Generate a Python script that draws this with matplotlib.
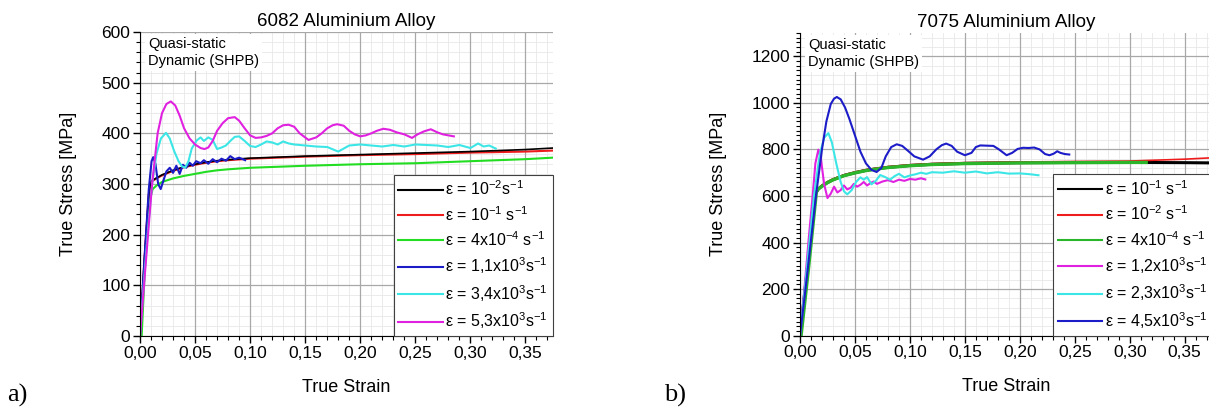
import matplotlib
matplotlib.use("Agg")
import matplotlib.pyplot as plt
from matplotlib.ticker import MultipleLocator, FuncFormatter

plt.rcParams['font.family'] = ['Liberation Sans', 'DejaVu Sans']
plt.rcParams['mathtext.default'] = 'regular'

# ---- 6082 aluminium alloy (panel a) ----
black_a_x = [0, 0.004, 0.008, 0.0105, 0.015, 0.02, 0.03, 0.04, 0.05, 0.06, 0.07, 0.08, 0.1, 0.125, 0.15, 0.2, 0.25, 0.3, 0.35, 0.375]
black_a_y = [0, 150, 280, 306, 312, 318, 327, 334, 339, 343, 346, 348, 351, 353, 355, 358, 361, 364, 368, 371]
red_a_x = black_a_x
red_a_y = [0, 150, 280, 305, 311, 317, 326, 333, 338, 342, 345, 347, 350, 352, 354, 357, 359, 362, 364, 366]
green_a_x = [0, 0.0015, 0.005, 0.009, 0.0115, 0.015, 0.02, 0.03, 0.04, 0.05, 0.06, 0.07, 0.08, 0.1, 0.125, 0.15, 0.2, 0.25, 0.3, 0.35, 0.375]
green_a_y = [0, 0, 160, 270, 290, 297, 304, 311, 316, 320, 324, 327, 329, 332, 334, 336, 339, 341, 345, 349, 352]
blue_a_x = [0, 0.004, 0.008, 0.0105, 0.012, 0.014, 0.0165, 0.0188, 0.021, 0.024, 0.027, 0.03, 0.033, 0.036, 0.039,
            0.042, 0.045, 0.048, 0.051, 0.055, 0.058, 0.062, 0.066, 0.07, 0.074, 0.078, 0.082, 0.086, 0.09, 0.0955]
blue_a_y = [0, 150, 290, 345, 353, 340, 300, 290, 305, 325, 332, 322, 336, 320, 338,
            332, 342, 336, 345, 341, 347, 340, 349, 343, 350, 346, 355, 349, 352, 347]
cyan_a_x = [0, 0.004, 0.008, 0.011, 0.015, 0.019, 0.0236, 0.027, 0.031, 0.035, 0.038, 0.041, 0.044, 0.047, 0.0515,
            0.055, 0.058, 0.062, 0.066, 0.07, 0.074, 0.078, 0.082, 0.086, 0.09, 0.095, 0.1, 0.105, 0.11, 0.115,
            0.12, 0.125, 0.13, 0.135, 0.14, 0.15, 0.16, 0.17, 0.18, 0.19, 0.2, 0.21, 0.22, 0.23, 0.24,
            0.25, 0.26, 0.27, 0.28, 0.29, 0.3, 0.307, 0.312, 0.317, 0.323]
cyan_a_y = [0, 120, 230, 300, 360, 390, 401, 390, 365, 345, 335, 332, 345, 370, 386,
            392, 385, 392, 387, 369, 372, 376, 385, 393, 394, 385, 375, 373, 378, 384,
            382, 378, 384, 380, 378, 376, 374, 373, 364, 376, 378, 376, 374, 377, 374,
            378, 377, 376, 373, 377, 371, 380, 374, 376, 370]
magenta_a_x = [0, 0.004, 0.008, 0.011, 0.016, 0.02, 0.024, 0.028, 0.032, 0.036, 0.04, 0.045, 0.05, 0.055, 0.0585,
               0.062, 0.066, 0.07, 0.075, 0.08, 0.086, 0.09, 0.095, 0.1, 0.105, 0.11, 0.115, 0.12, 0.125, 0.13,
               0.135, 0.14, 0.145, 0.153, 0.16, 0.165, 0.17, 0.175, 0.179, 0.185, 0.19, 0.195, 0.2, 0.205, 0.21,
               0.215, 0.221, 0.227, 0.233, 0.24, 0.247, 0.252, 0.258, 0.264, 0.27, 0.275, 0.28, 0.285]
magenta_a_y = [0, 110, 220, 300, 400, 440, 458, 463, 455, 435, 410, 390, 378, 371, 369,
               372, 385, 405, 420, 430, 432, 425, 410, 396, 391, 392, 395, 400, 410, 416,
               417, 413, 400, 387, 392, 400, 410, 416, 418, 415, 405, 398, 394, 396, 400,
               405, 409, 407, 402, 398, 391, 398, 404, 408, 402, 398, 396, 394]

labels_a = ['ε = 10$^{-2}$s$^{-1}$', 'ε = 10$^{-1}$ s$^{-1}$', 'ε = 4x10$^{-4}$ s$^{-1}$',
            'ε = 1,1x10$^{3}$s$^{-1}$', 'ε = 3,4x10$^{3}$s$^{-1}$', 'ε = 5,3x10$^{3}$s$^{-1}$']

# ---- 7075 aluminium alloy (panel b) ----
black_b_x = [0, 0.007, 0.014, 0.0167, 0.02, 0.025, 0.03, 0.04, 0.05, 0.06, 0.07, 0.08, 0.1, 0.12, 0.15, 0.2, 0.25, 0.3, 0.35, 0.375]
black_b_y = [0, 300, 610, 630, 643, 658, 670, 688, 700, 710, 717, 723, 731, 736, 740, 743, 744, 744, 743, 742]
red_b_x = black_b_x
red_b_y = [0, 300, 610, 633, 646, 661, 673, 691, 703, 713, 720, 726, 734, 739, 743, 746, 748, 750, 758, 764]
green_b_x = [0.001, 0.008, 0.015, 0.0167, 0.02, 0.025, 0.03, 0.04, 0.05, 0.06, 0.07, 0.08, 0.1, 0.12, 0.15, 0.2, 0.25, 0.3, 0.315]
green_b_y = [0, 300, 620, 630, 642, 657, 669, 687, 699, 709, 716, 722, 730, 735, 739, 742, 743, 744, 744]
magenta_b_x = [0, 0.004, 0.008, 0.0115, 0.014, 0.0167, 0.019, 0.022, 0.025, 0.028, 0.031, 0.034, 0.037, 0.04, 0.043,
               0.046, 0.049, 0.052, 0.055, 0.058, 0.061, 0.064, 0.067, 0.07, 0.075, 0.08, 0.085, 0.09, 0.095, 0.1,
               0.105, 0.11, 0.114]
magenta_b_y = [0, 200, 420, 600, 740, 799, 760, 650, 591, 610, 640, 615, 625, 645, 628,
               635, 652, 640, 648, 660, 645, 655, 662, 652, 662, 668, 660, 670, 665, 673,
               670, 676, 671]
cyan_b_x = [0, 0.005, 0.01, 0.0127, 0.018, 0.022, 0.0258, 0.029, 0.033, 0.037, 0.04, 0.043, 0.047, 0.051, 0.055,
            0.058, 0.061, 0.065, 0.069, 0.073, 0.078, 0.082, 0.086, 0.09, 0.095, 0.1, 0.105, 0.11, 0.115, 0.12,
            0.13, 0.14, 0.15, 0.16, 0.17, 0.18, 0.19, 0.2, 0.21, 0.217]
cyan_b_y = [0, 230, 470, 600, 780, 850, 870, 830, 740, 660, 620, 607, 625, 660, 680,
            670, 681, 650, 665, 690, 680, 670, 685, 695, 680, 688, 693, 700, 695, 702,
            700, 706, 700, 705, 697, 702, 696, 697, 693, 689]
blue_b_x = [0, 0.005, 0.01, 0.0145, 0.02, 0.024, 0.028, 0.031, 0.0335, 0.037, 0.041, 0.045, 0.05, 0.055, 0.06,
            0.065, 0.0697, 0.074, 0.078, 0.083, 0.088, 0.093, 0.098, 0.104, 0.112, 0.118, 0.124, 0.129, 0.133, 0.138,
            0.143, 0.15, 0.156, 0.16, 0.164, 0.17, 0.176, 0.181, 0.188, 0.193, 0.198, 0.203, 0.208, 0.213, 0.218,
            0.223, 0.227, 0.231, 0.234, 0.237, 0.241, 0.245]
blue_b_y = [0, 200, 410, 600, 800, 920, 995, 1018, 1025, 1015, 980, 930, 860, 790, 740,
            712, 703, 720, 770, 810, 822, 815, 795, 770, 756, 770, 800, 818, 825, 815,
            790, 775, 785, 810, 817, 816, 815, 800, 775, 785, 802, 807, 806, 808, 800,
            780, 775, 782, 792, 785, 780, 778]

labels_b = ['ε = 10$^{-1}$ s$^{-1}$', 'ε = 10$^{-2}$ s$^{-1}$', 'ε = 4x10$^{-4}$ s$^{-1}$',
            'ε = 1,2x10$^{3}$s$^{-1}$', 'ε = 2,3x10$^{3}$s$^{-1}$', 'ε = 4,5x10$^{3}$s$^{-1}$']

BLACK, RED, GREEN = '#000000', '#ee1c1c', '#22dd22'
BLUE, CYAN, MAGENTA = '#1c1cc8', '#3de6e6', '#e021e0'

fig = plt.figure(figsize=(12.09, 4.12), dpi=100)
ax_a = fig.add_axes([0.1158, 0.1845, 0.3416, 0.7378])
ax_b = fig.add_axes([0.6617, 0.1852, 0.3409, 0.7348])


def style_axes(ax, ymax, ymaj, ymin_tick, ygrid_minor, title):
    ax.set_xlim(0, 0.375)
    ax.set_ylim(0, ymax)
    ax.xaxis.set_major_locator(MultipleLocator(0.05))
    ax.xaxis.set_minor_locator(MultipleLocator(0.01))
    ax.yaxis.set_major_locator(MultipleLocator(ymaj))
    ax.yaxis.set_minor_locator(MultipleLocator(ymin_tick))
    ax.xaxis.set_major_formatter(FuncFormatter(lambda v, p: f'{v:.2f}'.replace('.', ',')))
    for s in ['top', 'right']:
        ax.spines[s].set_visible(False)
    ax.tick_params(which='major', direction='out', length=5, width=1, labelsize=12.5, pad=2)
    ax.tick_params(which='minor', direction='out', length=3, width=0.8)
    ax.grid(True, which='major', color='#a8a8a8', lw=0.9)
    # faint background grid
    v = 0.01
    while v < 0.375:
        ax.axvline(v, color='#e8e8e8', lw=0.6, zorder=0)
        v += 0.01
    g = ygrid_minor
    while g < ymax:
        ax.axhline(g, color='#e8e8e8', lw=0.6, zorder=0)
        g += ygrid_minor
    ax.set_axisbelow(True)
    ax.set_title(title, fontsize=13.5, pad=4)
    ax.set_xlabel('True Strain', fontsize=13)
    ax.set_ylabel('True Stress [MPa]', fontsize=13)
    ax.text(0.02, 0.985, 'Quasi-static\nDynamic (SHPB)', transform=ax.transAxes, fontsize=10.5,
            va='top', ha='left', linespacing=1.35,
            bbox=dict(facecolor='white', edgecolor='none', pad=2))


style_axes(ax_a, 600, 100, 20, 20, '6082 Aluminium Alloy')
style_axes(ax_b, 1300, 200, 20, 40, '7075 Aluminium Alloy')
ax_a.xaxis.set_label_coords(0.5, -0.14)
ax_b.xaxis.set_label_coords(0.5, -0.14)
ax_a.yaxis.set_label_coords(-0.152, 0.5)
ax_b.yaxis.set_label_coords(-0.176, 0.5)

lw = 1.5
# panel a
g_a, = ax_a.plot(green_a_x, green_a_y, color=GREEN, lw=lw)
r_a, = ax_a.plot(red_a_x, red_a_y, color=RED, lw=lw)
k_a, = ax_a.plot(black_a_x, black_a_y, color=BLACK, lw=1.2)
b_a, = ax_a.plot(blue_a_x, blue_a_y, color=BLUE, lw=lw)
c_a, = ax_a.plot(cyan_a_x, cyan_a_y, color=CYAN, lw=lw)
m_a, = ax_a.plot(magenta_a_x, magenta_a_y, color=MAGENTA, lw=lw)

# panel b
k_b, = ax_b.plot(black_b_x, black_b_y, color=BLACK, lw=2.2)
r_b, = ax_b.plot(red_b_x, red_b_y, color=RED, lw=1.2)
g_b, = ax_b.plot(green_b_x, green_b_y, color='#2bb52b', lw=2.4)
m_b, = ax_b.plot(magenta_b_x, magenta_b_y, color=MAGENTA, lw=lw)
c_b, = ax_b.plot(cyan_b_x, cyan_b_y, color=CYAN, lw=lw)
b_b, = ax_b.plot(blue_b_x, blue_b_y, color=BLUE, lw=lw)

leg_kw = dict(loc='lower right', fontsize=11.5, frameon=True, fancybox=False, framealpha=1,
              edgecolor='#404040', handlelength=2.8, handletextpad=0.15, borderpad=0.3,
              labelspacing=0.42, borderaxespad=0.0)
la = ax_a.legend([k_a, r_a, g_a, b_a, c_a, m_a], labels_a, **leg_kw)
lb = ax_b.legend([k_b, r_b, g_b, m_b, c_b, b_b], labels_b, **leg_kw)
for leg in (la, lb):
    leg.get_frame().set_linewidth(0.8)
    for h in leg.get_lines():
        h.set_linewidth(1.5)

fig.text(0.006, 0.025, 'a)', fontsize=19, family='Liberation Serif')
fig.text(0.549, 0.025, 'b)', fontsize=19, family='Liberation Serif')

plt.savefig('out.png', dpi=100)
plt.close(fig)
